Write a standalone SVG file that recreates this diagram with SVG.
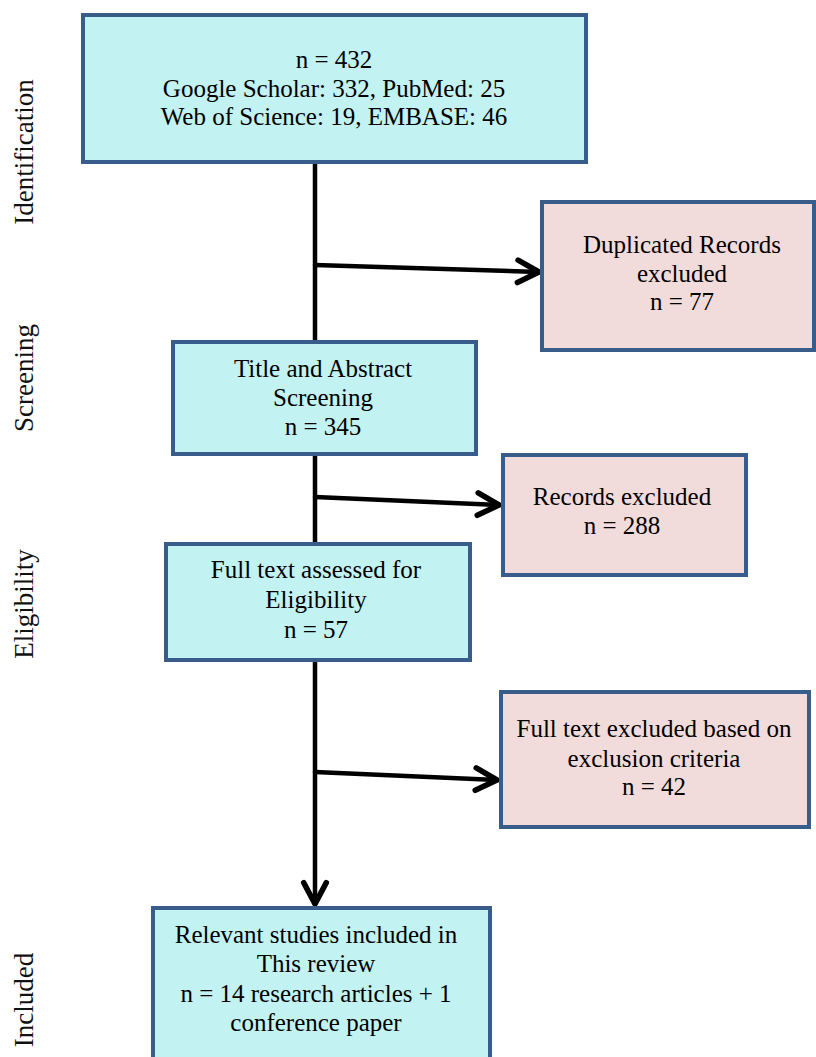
<svg xmlns="http://www.w3.org/2000/svg" width="816" height="1057" viewBox="0 0 816 1057">
<style>
  .box { stroke: #385d8a; stroke-width: 4; }
  .cyan { fill: #c3f2f2; }
  .pink { fill: #f2dcdb; }
  .t { font-family: "Liberation Serif", "Times New Roman", serif; font-size: 25px; fill: #000; text-anchor: middle; }
  .side { font-family: "Liberation Serif", "Times New Roman", serif; font-size: 27px; fill: #111; text-anchor: middle; }
  .conn { stroke: #000; stroke-width: 4.5; fill: none; stroke-linecap: round; }
</style>
<defs>
  <marker id="arr" markerUnits="userSpaceOnUse" markerWidth="30" markerHeight="30" refX="0" refY="0" orient="auto" overflow="visible" viewBox="-22 -12 24 24">
    <path d="M-17,-9 L0,0 L-17,9" fill="none" stroke="#000" stroke-width="4.5" stroke-linecap="round" stroke-linejoin="round"/>
  </marker>
</defs>
<rect width="816" height="1057" fill="#ffffff"/>

<g id="labels">
  <text class="side" transform="translate(33,152) rotate(-90)">Identification</text>
  <text class="side" transform="translate(33,378) rotate(-90)">Screening</text>
  <text class="side" transform="translate(33,604) rotate(-90)">Eligibility</text>
  <text class="side" transform="translate(33,1000) rotate(-90)">Included</text>
</g>

<g id="connectors">
  <line class="conn" x1="315" y1="163" x2="315" y2="341"/>
  <line class="conn" x1="315" y1="265" x2="539" y2="272" marker-end="url(#arr)"/>
  <line class="conn" x1="315" y1="455" x2="315" y2="543"/>
  <line class="conn" x1="315" y1="497" x2="499" y2="505" marker-end="url(#arr)"/>
  <line class="conn" x1="315" y1="661" x2="315" y2="904" marker-end="url(#arr)"/>
  <line class="conn" x1="315" y1="772" x2="497" y2="780" marker-end="url(#arr)"/>
</g>

<g id="node-identification">
  <rect class="box cyan" x="83" y="15" width="503" height="147"/>
  <text class="t" x="334" y="68">n = 432</text>
  <text class="t" x="334" y="97">Google Scholar: 332, PubMed: 25</text>
  <text class="t" x="334" y="125">Web of Science: 19, EMBASE: 46</text>
</g>

<g id="node-duplicates">
  <rect class="box pink" x="542" y="202" width="272" height="148"/>
  <text class="t" x="682" y="253">Duplicated Records</text>
  <text class="t" x="682" y="282">excluded</text>
  <text class="t" x="682" y="310">n = 77</text>
</g>

<g id="node-screening">
  <rect class="box cyan" x="173" y="342" width="303" height="112"/>
  <text class="t" x="323" y="377">Title and Abstract</text>
  <text class="t" x="323" y="406">Screening</text>
  <text class="t" x="323" y="435">n = 345</text>
</g>

<g id="node-records-excluded">
  <rect class="box pink" x="503" y="455" width="243" height="120"/>
  <text class="t" x="622" y="505">Records excluded</text>
  <text class="t" x="622" y="534">n = 288</text>
</g>

<g id="node-eligibility">
  <rect class="box cyan" x="166" y="544" width="304" height="116"/>
  <text class="t" x="316" y="578">Full text assessed for</text>
  <text class="t" x="316" y="608">Eligibility</text>
  <text class="t" x="316" y="638">n = 57</text>
</g>

<g id="node-fulltext-excluded">
  <rect class="box pink" x="501" y="692" width="308" height="135"/>
  <text class="t" x="654" y="737">Full text excluded based on</text>
  <text class="t" x="654" y="767">exclusion criteria</text>
  <text class="t" x="654" y="795">n = 42</text>
</g>

<g id="node-included">
  <rect class="box cyan" x="153" y="908" width="337" height="170"/>
  <text class="t" x="316" y="943">Relevant studies included in</text>
  <text class="t" x="316" y="972">This review</text>
  <text class="t" x="316" y="1002">n = 14 research articles + 1</text>
  <text class="t" x="316" y="1031">conference paper</text>
</g>
</svg>
